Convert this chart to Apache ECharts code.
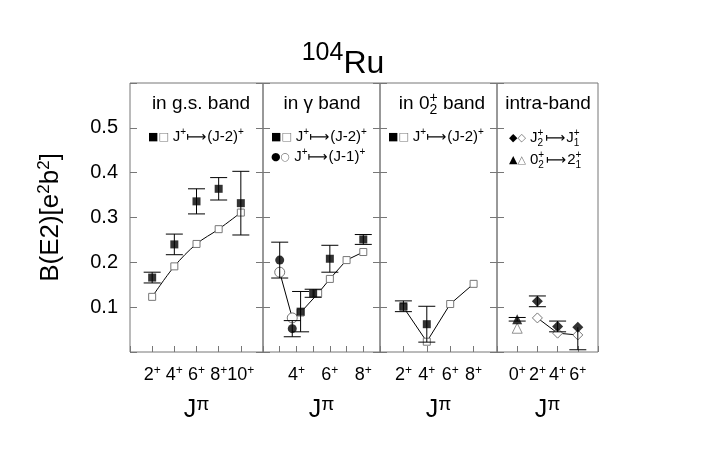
<!DOCTYPE html>
<html><head><meta charset="utf-8">
<script src="https://cdn.jsdelivr.net/npm/echarts@6/dist/echarts.min.js"></script>
<style>html,body{margin:0;padding:0;background:#fff}#c{width:717px;height:450px}</style>
</head><body><div id="c"></div>
<script>
// ---------- data ----------
const yTickLabels = ['0.1', '0.2', '0.3', '0.4', '0.5'];
// panel 1: in g.s. band
const gsTicks = [2, 4, 6, 8, 10];
const gsJ = [2, 4, 6, 8, 10];
const gsExp = [0.166, 0.240, 0.336, 0.364, 0.332];
const gsErr = [0.012, 0.023, 0.028, 0.025, 0.071];
const gsTh = [0.123, 0.191, 0.241, 0.274, 0.311];
// panel 2: in gamma band
const gamTicks = [4, 6, 8];
const gamSqJ = [4.25, 5, 6, 8];
const gamSqExp = [0.090, 0.131, 0.208, 0.251];
const gamSqErr = [0.045, 0.009, 0.030, 0.011];
const gamCiJ = [3, 3.75];
const gamCiExp = [0.205, 0.052];
const gamCiErr = [0.040, 0.018];
const gamThJ = [3, 3.75, 4.25, 5.3, 6, 7, 8];
const gamTh = [0.178, 0.076, 0.088, 0.131, 0.163, 0.205, 0.223];
const gamThKind = ['c', 'c', 's', 's', 's', 's', 's'];
// panel 3: in 0_2+ band
const b0Ticks = [2, 4, 6, 8];
const b0J = [2, 4];
const b0Exp = [0.102, 0.062];
const b0Err = [0.012, 0.040];
const b0ThJ = [2, 4, 6, 8];
const b0Th = [0.100, 0.023, 0.107, 0.152];
// panel 4: intra-band
const inTicks = [0, 2, 4, 6];
const inTriJ = [0];
const inTriExp = [0.073];
const inTriErr = [0.004];
const inTriTh = [0.053];
const inDiaJ = [2, 4, 6];
const inDiaExp = [0.113, 0.057, 0.055];
const inDiaErrLo = [0.012, 0.012, 0.050];
const inDiaErrHi = [0.012, 0.012, 0.0];
const inDiaTh = [0.076, 0.042, 0.038];

// ---------- styling ----------
const FF = '"Liberation Sans", Arial, sans-serif';
const SYM = '"DejaVu Sans", sans-serif';
const GRAY = '#777';
const TOP = 83, H = 269;
const panels = [
  { left: 130, width: 133, min: 0, max: 12, interval: 2, ticks: gsTicks },
  { left: 263, width: 117, min: 2, max: 9, interval: 1, ticks: gamTicks },
  { left: 380, width: 117, min: 0, max: 10, interval: 2, ticks: b0Ticks },
  { left: 497, width: 101, min: -2, max: 8, interval: 2, ticks: inTicks }
];

const grid = panels.map(p => ({ left: p.left, top: TOP, width: p.width, height: H, show: true, borderColor: GRAY, borderWidth: 1 }));
const xAxis = panels.map((p, i) => ({
  type: 'value', gridIndex: i, min: p.min, max: p.max, interval: p.interval,
  axisLine: { show: false, onZero: false }, splitLine: { show: false },
  axisTick: { inside: true, length: 6, lineStyle: { color: GRAY } },
  axisLabel: {
    margin: 13, showMinLabel: true, showMaxLabel: true,
    formatter: v => p.ticks.indexOf(v) >= 0 ? '{n|' + v + '}{s|+}' : '',
    rich: {
      n: { fontSize: 18, fontFamily: FF, color: '#000' },
      s: { fontSize: 12, fontFamily: FF, color: '#000', padding: [0, 0, 9, 0] }
    }
  },
  name: '{j|J}{p|π}', nameLocation: 'middle', nameGap: 43,
  nameTextStyle: { rich: {
    j: { fontSize: 25, fontFamily: FF, color: '#000' },
    p: { fontSize: 19, fontFamily: FF, color: '#000', padding: [0, 0, 12, 0] }
  } }
}));
const yAxis = [];
const leftIdx = [];
panels.forEach((p, i) => {
  leftIdx.push(yAxis.length);
  const base = {
    type: 'value', gridIndex: i, min: 0, max: 0.6, interval: 0.1,
    axisLine: { show: false, onZero: false }, splitLine: { show: false },
    axisTick: { inside: true, length: 7, lineStyle: { color: GRAY } }
  };
  yAxis.push(Object.assign({}, base, {
    position: 'left',
    axisLabel: { show: i === 0, fontSize: 20, fontFamily: FF, color: '#000', margin: 12,
      formatter: v => { const s = v.toFixed(1); return yTickLabels.indexOf(s) >= 0 ? s : ''; } },
    name: i === 0 ? '{b|B(E2)[e}{s|2}{b|b}{s|2}{b|]}' : '',
    nameLocation: 'middle', nameRotate: 90, nameGap: 64,
    nameTextStyle: { rich: {
      b: { fontSize: 26, fontFamily: FF, color: '#000' },
      s: { fontSize: 17, fontFamily: FF, color: '#000', padding: [0, 0, 13, 0] }
    } }
  }));
  if (i < 3) {
    yAxis.push(Object.assign({}, base, { position: 'right', axisLabel: { show: false } }));
  }
});

function zip(xs, ys) { return xs.map((x, k) => [x, ys[k]]); }

function errSeries(i, xs, vals, lo, hi) {
  return {
    type: 'custom', xAxisIndex: i, yAxisIndex: leftIdx[i], silent: true, z: 3,
    data: xs.map((x, k) => [x, vals[k] - lo[k], vals[k] + hi[k], vals[k]]),
    renderItem: (params, api) => {
      const x = api.value(0);
      const pl = api.coord([x, api.value(1)]);
      const ph = api.coord([x, api.value(2)]);
      const hw = 8.5;
      const st = { stroke: '#000', lineWidth: 1 };
      const ch = [{ type: 'line', shape: { x1: pl[0], y1: pl[1], x2: ph[0], y2: ph[1] }, style: st }];
      if (api.value(1) < api.value(3) - 1e-9) ch.push({ type: 'line', shape: { x1: pl[0] - hw, y1: pl[1], x2: pl[0] + hw, y2: pl[1] }, style: st });
      if (api.value(2) > api.value(3) + 1e-9) ch.push({ type: 'line', shape: { x1: ph[0] - hw, y1: ph[1], x2: ph[0] + hw, y2: ph[1] }, style: st });
      return { type: 'group', children: ch };
    }
  };
}
function filled(i, xs, ys, symbol, size) {
  return { type: 'scatter', xAxisIndex: i, yAxisIndex: leftIdx[i], silent: true, z: 4,
    data: zip(xs, ys), symbol: symbol, symbolSize: size, itemStyle: { color: '#000' } };
}
function openScatter(i, xs, ys, symbol, size) {
  return { type: 'scatter', xAxisIndex: i, yAxisIndex: leftIdx[i], silent: true, z: 2,
    data: zip(xs, ys), symbol: symbol, symbolSize: size,
    itemStyle: { color: '#fff', borderColor: GRAY, borderWidth: 1 } };
}
function thLine(i, data, symbol, size, smooth) {
  return { type: 'line', xAxisIndex: i, yAxisIndex: leftIdx[i], silent: true, z: 2,
    data: data, symbol: symbol, symbolSize: size, showSymbol: true, smooth: smooth || false,
    itemStyle: { color: '#fff', borderColor: GRAY, borderWidth: 1 },
    lineStyle: { color: '#000', width: 1 } };
}

const series = [
  // panel 1
  thLine(0, zip(gsJ, gsTh), 'rect', 7, 0.35),
  errSeries(0, gsJ, gsExp, gsErr, gsErr),
  filled(0, gsJ, gsExp, 'rect', 8),
  // panel 2
  thLine(1, gamThJ.map((x, k) => gamThKind[k] === 'c'
      ? { value: [x, gamTh[k]], symbol: 'circle', symbolSize: 10 }
      : { value: [x, gamTh[k]], symbol: 'rect', symbolSize: 7 }), 'rect', 7),
  errSeries(1, gamSqJ, gamSqExp, gamSqErr, gamSqErr),
  errSeries(1, gamCiJ, gamCiExp, gamCiErr, gamCiErr),
  filled(1, gamSqJ, gamSqExp, 'rect', 8),
  filled(1, gamCiJ, gamCiExp, 'circle', 9),
  // panel 3
  thLine(2, zip(b0ThJ, b0Th), 'rect', 7),
  errSeries(2, b0J, b0Exp, b0Err, b0Err),
  filled(2, b0J, b0Exp, 'rect', 8),
  // panel 4
  openScatter(3, inTriJ, inTriTh, 'triangle', 10),
  thLine(3, zip(inDiaJ, inDiaTh), 'diamond', 10),
  errSeries(3, inTriJ, inTriExp, inTriErr, inTriErr),
  errSeries(3, inDiaJ, inDiaExp, inDiaErrLo, inDiaErrHi),
  filled(3, inTriJ, inTriExp, 'triangle', 10),
  filled(3, inDiaJ, inDiaExp, 'diamond', 11)
];

// ---------- text layout helper ----------
const mctx = document.createElement('canvas').getContext('2d');
function tw(t, fs, ff) { mctx.font = fs + 'px ' + ff; return mctx.measureText(t).width; }
function flow(segs, x0, y, align) {
  segs.forEach(s => {
    s.ff = s.ff || FF;
    s.w = s.stack ? Math.max.apply(null, s.stack.map(t => tw(t, s.fs, s.ff))) : tw(s.t, s.fs, s.ff);
  });
  const total = segs.reduce((a, s) => a + s.w + (s.gap || 0), 0);
  let x = align === 'center' ? x0 - total / 2 : x0;
  const out = [];
  segs.forEach(s => {
    const mk = (t, dy) => ({ type: 'text', silent: true, z: 10, x: x, y: y + dy,
      style: { text: t, fontSize: s.fs, fontFamily: s.ff, fill: s.color || '#000',
        align: 'left', textAlign: 'left', verticalAlign: 'middle', textVerticalAlign: 'middle' } });
    if (s.stack) {
      const d = s.dys || [-s.fs * 0.45, s.fs * 0.5];
      out.push(mk(s.stack[0], d[0]));
      out.push(mk(s.stack[1], d[1]));
    } else out.push(mk(s.t, s.dy || 0));
    x += s.w + (s.gap || 0);
  });
  return out;
}
const SUP = (t) => ({ t: t, fs: 10, dy: -5 });
const ARROW = { t: '⟼', fs: 14, ff: SYM, gap: 1 };
const TFS = 19;
let gEls = [];
gEls = gEls.concat(flow([{ t: '104', fs: 25, dy: -11 }, { t: 'Ru', fs: 32 }], 343, 64, 'center'));
gEls = gEls.concat(flow([{ t: 'in g.s. band', fs: TFS }], 201, 104, 'center'));
gEls = gEls.concat(flow([{ t: 'in γ band', fs: TFS }], 322, 104, 'center'));
gEls = gEls.concat(flow([{ t: 'in 0', fs: TFS }, { stack: ['+', '2'], fs: 14, dys: [-6, 6] }, { t: ' band', fs: TFS }], 442, 104, 'center'));
gEls = gEls.concat(flow([{ t: 'intra-band', fs: TFS }], 548, 104, 'center'));
// legends
gEls = gEls.concat(flow([{ t: '■', fs: 11, ff: SYM }, { t: '□', fs: 11, ff: SYM, color: GRAY, gap: 4 }, { t: 'J', fs: 15 }, SUP('+'), ARROW, { t: '(J-2)', fs: 15 }, SUP('+')], 148, 137));
gEls = gEls.concat(flow([{ t: '■', fs: 11, ff: SYM }, { t: '□', fs: 11, ff: SYM, color: GRAY, gap: 4 }, { t: 'J', fs: 15 }, SUP('+'), ARROW, { t: '(J-2)', fs: 15 }, SUP('+')], 271, 137));
gEls = gEls.concat(flow([{ t: '●', fs: 11, ff: SYM }, { t: '○', fs: 11, ff: SYM, color: GRAY, gap: 4 }, { t: 'J', fs: 15 }, SUP('+'), ARROW, { t: '(J-1)', fs: 15 }, SUP('+')], 271, 157));
gEls = gEls.concat(flow([{ t: '■', fs: 11, ff: SYM }, { t: '□', fs: 11, ff: SYM, color: GRAY, gap: 4 }, { t: 'J', fs: 15 }, SUP('+'), ARROW, { t: '(J-2)', fs: 15 }, SUP('+')], 388, 137));
gEls = gEls.concat(flow([{ t: '◆', fs: 11, ff: SYM }, { t: '◇', fs: 11, ff: SYM, color: GRAY, gap: 4 }, { t: 'J', fs: 15 }, { stack: ['+', '2'], fs: 10, gap: 2 }, ARROW, { t: 'J', fs: 15 }, { stack: ['+', '1'], fs: 10 }], 509, 138));
gEls = gEls.concat(flow([{ t: '▲', fs: 11, ff: SYM }, { t: '△', fs: 11, ff: SYM, color: GRAY, gap: 4 }, { t: '0', fs: 15 }, { stack: ['+', '2'], fs: 10, gap: 2 }, ARROW, { t: '2', fs: 15 }, { stack: ['+', '1'], fs: 10 }], 509, 160));

const chart = echarts.init(document.getElementById('c'), null, { renderer: 'canvas' });
chart.setOption({
  animation: false,
  backgroundColor: '#fff',
  grid: grid, xAxis: xAxis, yAxis: yAxis, series: series,
  graphic: { elements: gEls }
});
</script>
</body></html>
